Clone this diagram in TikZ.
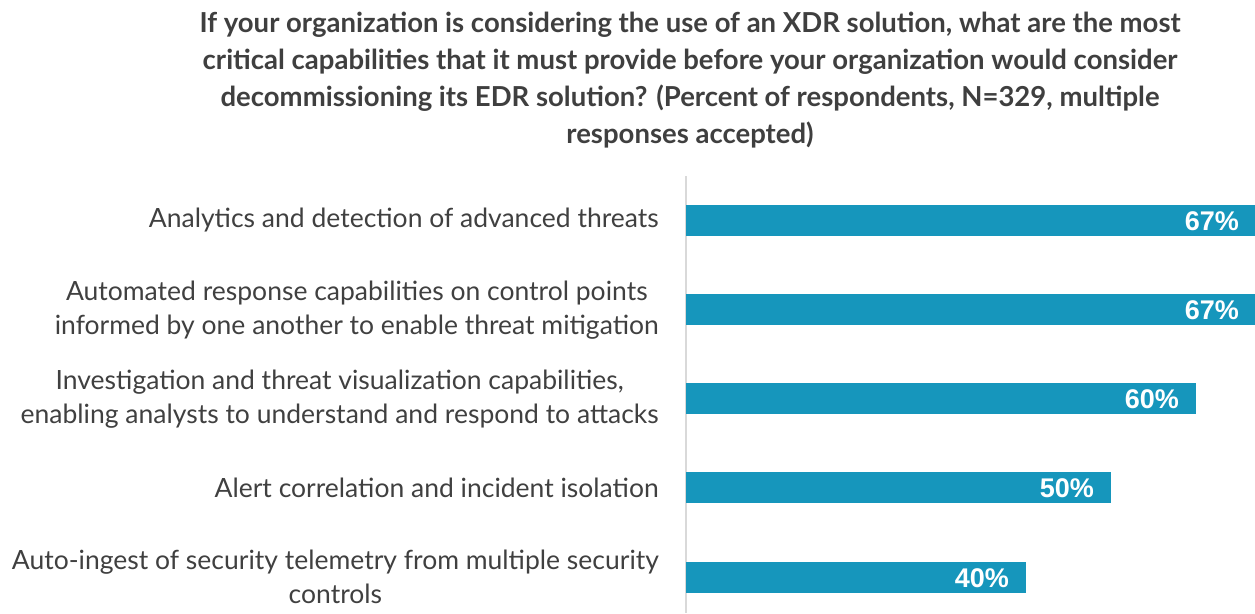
\documentclass[tikz,border=0pt]{standalone}
\usepackage{fontspec}
\setmainfont{Lato}
\newfontfamily\pctfont{Liberation Sans}
\usepackage{xcolor}
\usetikzlibrary{positioning}

\definecolor{barblue}{RGB}{22,150,188}
\definecolor{labelgray}{RGB}{64,64,64}
\definecolor{titlegray}{RGB}{63,63,63}
\definecolor{axisgray}{RGB}{217,217,217}

\begin{document}
\begin{tikzpicture}[x=1pt,y=-1pt,
    bar/.style={fill=barblue},
    catlabel/.style={anchor=east,align=center,text=labelgray,inner sep=0pt,
        font=\fontsize{26.5}{34}\selectfont},
    pctlabel/.style={anchor=east,text=white,inner sep=0pt,
        font=\pctfont\bfseries\fontsize{27}{30}\selectfont},
    charttitle/.style={align=center,text=titlegray,inner sep=0pt,
        font=\bfseries\fontsize{27.5}{37}\selectfont}]
    \useasboundingbox[fill=white] (0,0) rectangle (1255,613);

    % Title
    \node[charttitle] (title) at (690,80) {If your organization is considering the use of an XDR solution, what are the most\\
        critical capabilities that it must provide before your organization would consider\\
        decommissioning its EDR solution? (Percent of respondents, N=329, multiple\\
        responses accepted)};

    % Axis
    \draw[axisgray, line width=2pt] (686,176) coordinate (axtop) -- (686,613) coordinate (axbot);

    % Bars
    \fill[bar] (686,205) rectangle (1255,236);
    \fill[bar] (686,294) rectangle (1255,325);
    \fill[bar] (686,383) rectangle (1196,414);
    \fill[bar] (686,472) rectangle (1111,503);
    \fill[bar] (686,562) rectangle (1026,593);

    % Values
    \node[pctlabel] (v1) at (1239,221) {67\%};
    \node[pctlabel] (v2) at (1239,310) {67\%};
    \node[pctlabel] (v3) at (1179,399) {60\%};
    \node[pctlabel] (v4) at (1094,488) {50\%};
    \node[pctlabel] (v5) at (1009,578) {40\%};

    % Categories
    \node[catlabel] (c1) at (659,220) {Analytics and detection of advanced threats};
    \node[catlabel] (c2) at (659,310) {Automated response capabilities on control points\\
        informed by one another to enable threat mitigation};
    \node[catlabel] (c3) at (659,399) {Investigation and threat visualization capabilities,\\
        enabling analysts to understand and respond to attacks};
    \node[catlabel] (c4) at (659,488) {Alert correlation and incident isolation};
    \node[catlabel] (c5) at (659,577) {Auto-ingest of security telemetry from multiple security\\
        controls};
\end{tikzpicture}
\end{document}
